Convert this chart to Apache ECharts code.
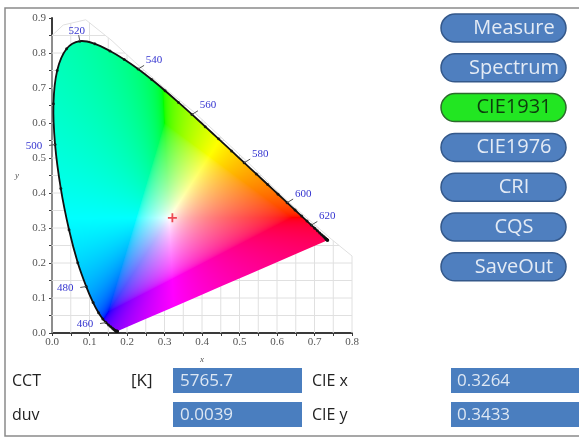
<!DOCTYPE html>
<html><head><meta charset="utf-8">
<script src="https://cdn.jsdelivr.net/npm/echarts@6/dist/echarts.min.js"></script>
<style>html,body{margin:0;padding:0;background:#fff}#c{width:579px;height:438px}</style>
</head><body><div id="c"></div>
<script>
// ---- data ----
const wavelengths = [380,385,390,395,400,405,410,415,420,425,430,435,440,445,450,455,460,465,470,475,480,485,490,495,500,505,510,515,520,525,530,535,540,545,550,555,560,565,570,575,580,585,590,595,600,605,610,615,620,625,630,635,640,645,650,655,660,665,670,675,680,685,690,695,700];
const locusX = [0.1741,0.1740,0.1738,0.1736,0.1733,0.1730,0.1726,0.1721,0.1714,0.1703,0.1689,0.1669,0.1644,0.1611,0.1566,0.1510,0.1440,0.1355,0.1241,0.1096,0.0913,0.0687,0.0454,0.0235,0.0082,0.0039,0.0139,0.0389,0.0743,0.1142,0.1547,0.1929,0.2296,0.2658,0.3016,0.3373,0.3731,0.4087,0.4441,0.4788,0.5125,0.5448,0.5752,0.6029,0.6270,0.6482,0.6658,0.6801,0.6915,0.7006,0.7079,0.7140,0.7190,0.7230,0.7260,0.7283,0.7300,0.7311,0.7320,0.7327,0.7334,0.7340,0.7344,0.7346,0.7347];
const locusY = [0.0050,0.0050,0.0049,0.0049,0.0048,0.0048,0.0048,0.0048,0.0051,0.0058,0.0069,0.0086,0.0109,0.0138,0.0177,0.0227,0.0297,0.0399,0.0578,0.0868,0.1327,0.2007,0.2950,0.4127,0.5384,0.6548,0.7502,0.8120,0.8338,0.8262,0.8059,0.7816,0.7543,0.7243,0.6923,0.6589,0.6245,0.5896,0.5547,0.5202,0.4866,0.4544,0.4242,0.3965,0.3725,0.3514,0.3340,0.3197,0.3083,0.2993,0.2920,0.2859,0.2809,0.2770,0.2740,0.2717,0.2700,0.2689,0.2680,0.2673,0.2666,0.2660,0.2656,0.2654,0.2653];
const labelWavelengths = [460,480,500,520,540,560,580,600,620];
const measuredX = [0.321];
const measuredY = [0.329];
const gridValuesX = [0.05,0.1,0.15,0.2,0.25,0.3,0.35,0.4,0.45,0.5,0.55,0.6,0.65,0.7,0.75];
const gridValuesY = [0.05,0.1,0.15,0.2,0.25,0.3,0.35,0.4,0.45,0.5,0.55,0.6,0.65,0.7,0.75,0.8,0.85];
const hullX = [0,0,0.03,0.09,0.16,0.22,0.30,0.38,0.52,0.63,0.70,0.745,0.8,0.8];
const hullY = [0,0.85,0.88,0.895,0.835,0.775,0.70,0.63,0.49,0.375,0.31,0.268,0.22,0];
const buttonLabels = ['Measure','Spectrum','CIE1931','CIE1976','CRI','CQS','SaveOut'];
const activeButton = 'CIE1931';
const fieldNames = ['CCT','duv'];
const fieldUnits = ['[K]',''];
const fieldValues = ['5765.7','0.0039'];
const cieNames = ['CIE x','CIE y'];
const cieValues = ['0.3264','0.3433'];

// ---- helpers ----
const locus = wavelengths.map((w,i)=>[locusX[i],locusY[i],w]);
const hull = hullX.map((x,i)=>[x,hullY[i]]);

function spans(poly, c, horiz){
  const xs=[];
  for(let i=0;i<poly.length;i++){
    const a=poly[i], b=poly[(i+1)%poly.length];
    const ai=horiz?a[1]:a[0], bi=horiz?b[1]:b[0];
    const ao=horiz?a[0]:a[1], bo=horiz?b[0]:b[1];
    if((ai<=c&&bi>c)||(bi<=c&&ai>c)) xs.push(ao+(c-ai)*(bo-ao)/(bi-ai));
  }
  xs.sort((p,q)=>p-q);
  const out=[]; for(let i=0;i+1<xs.length;i+=2) out.push([xs[i],xs[i+1]]);
  return out;
}

const SAT_BOOST = 0.35;
function chromaRGB(x,y){
  if(y<=0.0001) return [255,255,255];
  const X=x/y, Y=1, Z=(1-x-y)/y;
  let r=3.2406*X-1.5372*Y-0.4986*Z;
  let g=-0.9689*X+1.8758*Y+0.0415*Z;
  let b=0.0557*X-0.2040*Y+1.0570*Z;
  let mn=Math.min(r,g,b);
  if(mn<0){ r-=mn; g-=mn; b-=mn; }
  let m=Math.max(r,g,b)||1; r/=m; g/=m; b/=m;
  mn=Math.min(r,g,b)*SAT_BOOST;
  r=(r-mn)/(1-mn); g=(g-mn)/(1-mn); b=(b-mn)/(1-mn);
  const gm=c=>{c=Math.max(0,Math.min(1,c)); c=c<=0.0031308?12.92*c:1.055*Math.pow(c,1/2.4)-0.055; return Math.round(c*255);};
  return [gm(r),gm(g),gm(b)];
}

let cachedPattern=null, cacheKey='';
function getPattern(api){
  const W=api.getWidth(), H=api.getHeight();
  const p0=api.coord([0,0]), p1=api.coord([0.8,0.9]);
  const key=[W,H,p0,p1].join(',');
  if(key===cacheKey) return cachedPattern;
  const cv=document.createElement('canvas'); cv.width=W; cv.height=H;
  const ctx=cv.getContext('2d'); const img=ctx.createImageData(W,H);
  const x0=Math.floor(Math.min(p0[0],p1[0])), x1=Math.ceil(Math.max(p0[0],p1[0]));
  const y0=Math.floor(Math.min(p0[1],p1[1])), y1=Math.ceil(Math.max(p0[1],p1[1]));
  for(let py=y0;py<=y1&&py<H;py++){
    for(let px=x0;px<=x1&&px<W;px++){
      const dx=(px+0.5-p0[0])/(p1[0]-p0[0])*0.8;
      const dy=(py+0.5-p0[1])/(p1[1]-p0[1])*0.9;
      const c=chromaRGB(Math.max(dx,0.001),Math.max(dy,0.002));
      const k=(py*W+px)*4; img.data[k]=c[0]; img.data[k+1]=c[1]; img.data[k+2]=c[2]; img.data[k+3]=255;
    }
  }
  ctx.putImageData(img,0,0);
  cachedPattern={image:cv, repeat:'no-repeat'}; cacheKey=key;
  return cachedPattern;
}

// ---- chart ----
const chart = echarts.init(document.getElementById('c'), null, {renderer:'canvas'});
const axisFont = {fontFamily:'"Liberation Serif", "DejaVu Serif", serif', fontSize:11, color:'#555'};
const uiFont = '"Open Sans", sans-serif';

const graphics = [];
graphics.push({type:'polyline', shape:{points:[[579,8],[5,8],[5,436],[579,436]]}, style:{stroke:'#8a8a8a', lineWidth:1.5, fill:null}, z:0});
buttonLabels.forEach((lab,i)=>{
  const active = lab===activeButton;
  graphics.push({type:'group', x:441, y:14+39.8*i, children:[
    {type:'rect', shape:{x:0,y:0,width:125,height:28,r:14}, style:{fill:active?'#22e622':'#4f7fbf', stroke:active?'#2d6a2d':'#34588a', lineWidth:1.5}},
    {type:'text', x:73, y:14, style:{text:lab, fill:active?'#0d3d0d':'#e4ebf5', font:'20px '+uiFont, textAlign:'center', textVerticalAlign:'middle'}}
  ]});
});
const rowsY=[381,415];
fieldNames.forEach((n,i)=>{
  const cy=rowsY[i];
  graphics.push({type:'text', x:12, y:cy, style:{text:n, fill:'#222', font:'16px '+uiFont, textVerticalAlign:'middle'}});
  if(fieldUnits[i]) graphics.push({type:'text', x:131, y:cy, style:{text:fieldUnits[i], fill:'#222', font:'17px '+uiFont, textVerticalAlign:'middle'}});
  graphics.push({type:'rect', shape:{x:173,y:cy-13,width:129,height:25}, style:{fill:'#4a7ebf'}});
  graphics.push({type:'text', x:180, y:cy, style:{text:fieldValues[i], fill:'#dde7f3', font:'17px '+uiFont, textVerticalAlign:'middle'}});
  graphics.push({type:'text', x:312, y:cy, style:{text:cieNames[i], fill:'#222', font:'16px '+uiFont, textVerticalAlign:'middle'}});
  graphics.push({type:'rect', shape:{x:451,y:cy-13,width:128,height:25}, style:{fill:'#4a7ebf'}});
  graphics.push({type:'text', x:457, y:cy, style:{text:cieValues[i], fill:'#dde7f3', font:'17px '+uiFont, textVerticalAlign:'middle'}});
});

function labelPlacement(w){
  if(w>=540) return {dir:[1,-0.6], off:[16,-9]};
  if(w===520) return {dir:[-0.2,-1], off:[-3,-10]};
  return {dir:[-1,0.15], off:[-21,2]};
}

const option = {
  animation:false,
  grid:{left:52, right:227, top:18, bottom:105},
  xAxis:{type:'value', min:0, max:0.8, interval:0.1,
    name:'x', nameLocation:'middle', nameGap:22, nameTextStyle:{fontFamily:'"Liberation Serif", serif', fontStyle:'italic', fontSize:9, color:'#555'},
    axisLine:{show:true, onZero:false, lineStyle:{color:'#3a3a3a', width:2}},
    axisTick:{show:true, length:3, lineStyle:{color:'#3a3a3a'}},
    minorTick:{show:true, splitNumber:2, length:3, lineStyle:{color:'#3a3a3a'}},
    splitLine:{show:false},
    axisLabel:Object.assign({margin:4, formatter:v=>v.toFixed(1)}, axisFont)},
  yAxis:{type:'value', min:0, max:0.9, interval:0.1,
    name:'y', nameLocation:'middle', nameGap:33, nameRotate:0, nameTextStyle:{fontFamily:'"Liberation Serif", serif', fontStyle:'italic', fontSize:9, color:'#555'},
    axisLine:{show:true, onZero:false, lineStyle:{color:'#3a3a3a', width:2}},
    axisTick:{show:true, length:3, lineStyle:{color:'#3a3a3a'}},
    minorTick:{show:true, splitNumber:2, length:3, lineStyle:{color:'#3a3a3a'}},
    splitLine:{show:false},
    axisLabel:Object.assign({margin:6, formatter:v=>v.toFixed(1)}, axisFont)},
  graphic:graphics,
  series:[
    {
      type:'custom', z:1, silent:true, data:[0],
      renderItem:(params, api)=>{
        const children=[];
        const seg=(a,b)=>{const p=api.coord(a), q=api.coord(b); children.push({type:'line', shape:{x1:p[0],y1:p[1],x2:q[0],y2:q[1]}, style:{stroke:'#e0e0e0', lineWidth:1}});};
        gridValuesY.forEach(c=>spans(hull,c,true).forEach(s=>seg([s[0],c],[s[1],c])));
        gridValuesX.forEach(c=>spans(hull,c,false).forEach(s=>seg([c,s[0]],[c,s[1]])));
        const pts=hull.map(h=>api.coord(h));
        children.push({type:'polyline', shape:{points:pts}, style:{stroke:'#e0e0e0', lineWidth:1, fill:null}});
        return {type:'group', children};
      }
    },
    {
      type:'custom', z:2, silent:true, data:[0],
      renderItem:(params, api)=>{
        const pts=locus.map(p=>api.coord([p[0],p[1]]));
        return {type:'group', children:[
          {type:'polygon', shape:{points:pts, smooth:0.35}, style:{fill:getPattern(api), stroke:null}},
          {type:'polyline', shape:{points:pts, smooth:0.35}, style:{stroke:'#111', lineWidth:1.8, fill:null}}
        ]};
      }
    },
    {
      type:'scatter', z:3, silent:true, data:locus.map(p=>[p[0],p[1]]),
      symbol:'circle', symbolSize:3, itemStyle:{color:'#111'}
    },
    {
      type:'custom', z:4, silent:true,
      data:labelWavelengths.map(w=>{const i=wavelengths.indexOf(w); return [locusX[i],locusY[i],w];}),
      renderItem:(params, api)=>{
        const p=api.coord([api.value(0),api.value(1)]);
        const w=api.value(2); const lp=labelPlacement(w);
        return {type:'group', children:[
          {type:'line', shape:{x1:p[0],y1:p[1],x2:p[0]+lp.dir[0]*6,y2:p[1]+lp.dir[1]*6}, style:{stroke:'#555', lineWidth:1}},
          {type:'text', x:p[0]+lp.off[0], y:p[1]+lp.off[1], style:{text:String(w), fill:'#3434d0', font:'11px "Liberation Serif", serif', textAlign:'center', textVerticalAlign:'middle'}}
        ]};
      }
    },
    {
      type:'scatter', z:5, silent:true, data:measuredX.map((x,i)=>[x,measuredY[i]]),
      symbol:'path://M4,0H6V4H10V6H6V10H4V6H0V4H4Z', symbolSize:9, itemStyle:{color:'#e8202a'}
    }
  ]
};
chart.setOption(option);
</script>
</body></html>
